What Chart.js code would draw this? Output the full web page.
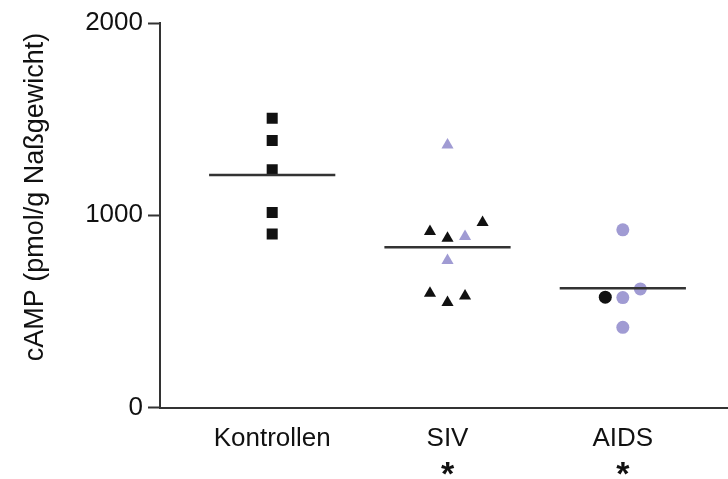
<!DOCTYPE html>
<html>
<head>
<meta charset="utf-8">
<script src="https://cdn.jsdelivr.net/npm/chart.js@4"></script>
<style>
  html, body { margin: 0; padding: 0; background: #fff; }
  #wrap { width: 728px; height: 479px; }
</style>
</head>
<body>
<div id="wrap"><canvas id="chart" width="728" height="479"></canvas></div>
<script>
// groups on the x axis (positions 1, 2, 3)
const categories = ['Kontrollen', 'SIV', 'AIDS'];
const significance = ['', '*', '*'];

// cAMP values (pmol/g), with small horizontal jitter
const kontrollenValues = [1505, 1389, 1236, 1014, 902];
const kontrollenJitter = [0, 0, 0, 0, 0];

const sivBlackValues = [915, 881, 962, 594, 546, 580];
const sivBlackJitter = [-0.1, 0, 0.2, -0.1, 0, 0.1];
const sivLilacValues = [1366, 889, 764];
const sivLilacJitter = [0, 0.1, 0];

const aidsBlackValues = [574];
const aidsBlackJitter = [-0.1];
const aidsLilacValues = [924, 617, 572, 417];
const aidsLilacJitter = [0, 0.1, 0, 0];

const yTicks = [0, 1000, 2000];
const yTitle = 'cAMP (pmol/g Naßgewicht)';

const BLACK = '#111111';
const LILAC = '#a09bd3';
const AXIS = '#333333';
const FONT = "'Liberation Sans', Arial, sans-serif";

function points(catIndex, values, jitter) {
    return values.map((v, i) => ({ x: catIndex + 1 + jitter[i], y: v }));
}

function mean(arr) {
    return arr.reduce((a, b) => a + b, 0) / arr.length;
}

function meanLine(catIndex, values) {
    const m = mean(values);
    return {
        type: 'line',
        data: [{ x: catIndex + 1 - 0.36, y: m }, { x: catIndex + 1 + 0.36, y: m }],
        borderColor: AXIS,
        borderWidth: 2.5,
        pointRadius: 0,
        showLine: true,
        order: 0
    };
}

function markers(data, color, style, radius) {
    return {
        type: 'scatter',
        data: data,
        backgroundColor: color,
        borderColor: color,
        borderWidth: 0,
        pointStyle: style,
        pointRadius: radius,
        pointHoverRadius: radius,
        order: 1
    };
}

const datasets = [
    markers(points(0, kontrollenValues, kontrollenJitter), BLACK, 'rect', 7.8),
    markers(points(1, sivBlackValues, sivBlackJitter), BLACK, 'triangle', 7),
    markers(points(1, sivLilacValues, sivLilacJitter), LILAC, 'triangle', 7),
    markers(points(2, aidsBlackValues, aidsBlackJitter), BLACK, 'circle', 6.5),
    markers(points(2, aidsLilacValues, aidsLilacJitter), LILAC, 'circle', 6.5),
    meanLine(0, kontrollenValues),
    meanLine(1, sivBlackValues.concat(sivLilacValues)),
    meanLine(2, aidsBlackValues.concat(aidsLilacValues))
];

// y title and significance stars drawn at their spots in the figure
const extraText = {
    id: 'extraText',
    afterDraw(chart) {
        const ctx = chart.ctx;
        const x = chart.scales.x;
        ctx.save();
        ctx.fillStyle = BLACK;
        ctx.textAlign = 'center';
        ctx.textBaseline = 'middle';

        ctx.font = 'bold 34px ' + FONT;
        significance.forEach((s, i) => {
            if (s) ctx.fillText(s, x.getPixelForValue(i + 1), 476);
        });

        ctx.translate(36, 197);
        ctx.rotate(-Math.PI / 2);
        ctx.font = '27px ' + FONT;
        ctx.fillText(yTitle, 0, 0);
        ctx.restore();
    }
};

new Chart(document.getElementById('chart'), {
    type: 'scatter',
    data: { datasets: datasets },
    plugins: [extraText],
    options: {
        responsive: false,
        animation: false,
        layout: { autoPadding: false, padding: { top: 23, right: 0, left: 0, bottom: 0 } },
        plugins: {
            legend: { display: false },
            tooltip: { enabled: false }
        },
        scales: {
            x: {
                type: 'linear',
                min: 0.36,
                max: 3.6,
                afterBuildTicks: function(scale) {
                    scale.ticks = categories.map((c, i) => ({ value: i + 1 }));
                },
                afterFit: function(scale) {
                    scale.height = 71.5;
                },
                grid: { display: false, drawTicks: false },
                border: { display: true, color: AXIS, width: 2 },
                ticks: {
                    autoSkip: false,
                    maxRotation: 0,
                    padding: 16,
                    color: BLACK,
                    font: { family: FONT, size: 26 },
                    callback: function(value) {
                        return categories[Math.round(value) - 1];
                    }
                }
            },
            y: {
                min: 0,
                max: 2000,
                afterBuildTicks: function(scale) {
                    scale.ticks = yTicks.map(v => ({ value: v }));
                },
                afterFit: function(scale) {
                    scale.width = 160;
                },
                grid: {
                    drawOnChartArea: false,
                    drawTicks: true,
                    tickLength: 12,
                    tickWidth: 2,
                    tickColor: AXIS
                },
                border: { display: true, color: AXIS, width: 2 },
                ticks: {
                    padding: 5,
                    color: BLACK,
                    font: { family: FONT, size: 26 },
                    callback: function(value) {
                        return String(value);
                    }
                }
            }
        }
    }
});
</script>
</body>
</html>
